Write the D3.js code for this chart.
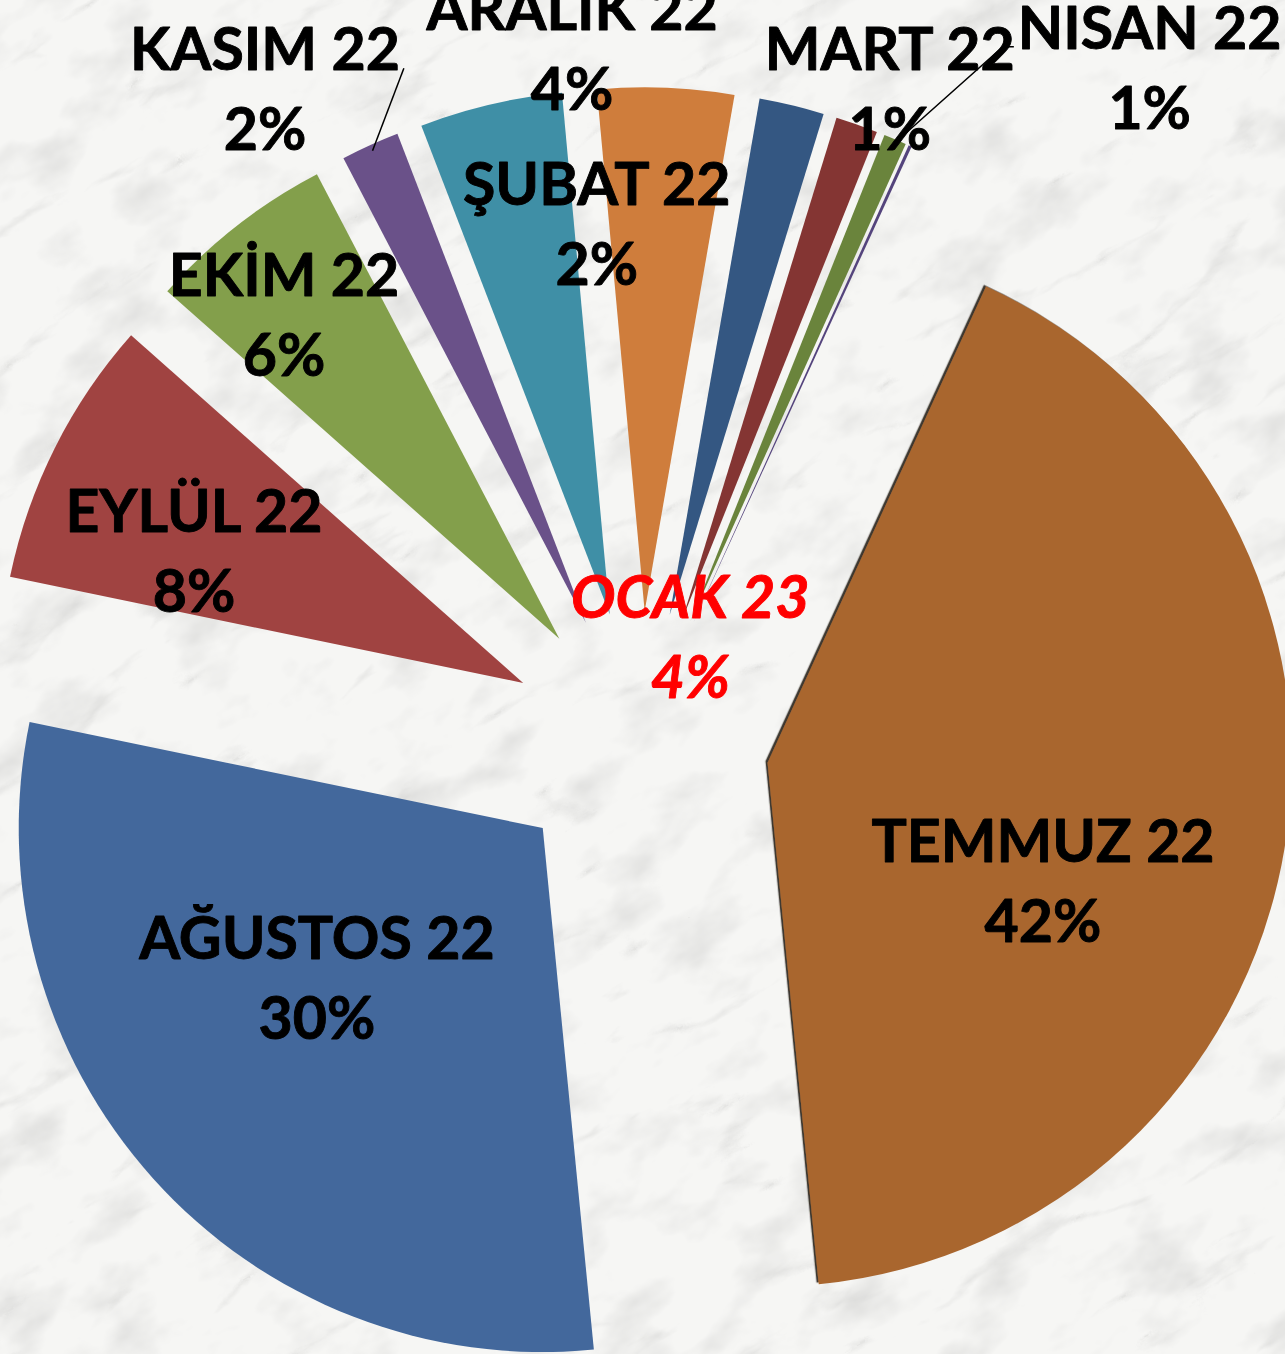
<!DOCTYPE html>
<html>
<head>
<meta charset="utf-8">
<script src="https://cdn.jsdelivr.net/npm/d3@7"></script>
<style>
  html, body { margin: 0; padding: 0; background: #f3f3f1; overflow: hidden; }
  svg { display: block; }
</style>
</head>
<body>
<div id="chart"></div>
<script>
// ---- data ----
const categories = ["AĞUSTOS 22", "EYLÜL 22", "EKİM 22", "KASIM 22", "ARALIK 22", "OCAK 23",
                    "ŞUBAT 22", "MART 22", "NISAN 22", "MAYIS 22", "TEMMUZ 22"];
const values = [29.8, 8.3, 5.8, 1.8, 4.4, 4.2, 2.0, 1.3, 0.7, 0.1, 41.6];
const colors = ["#43689C", "#A04341", "#839F4B", "#6A5189", "#3F8FA6", "#CF7D3C",
                "#345782", "#843533", "#6A843C", "#54447C", "#A9662F"];

// ---- layout ----
const W = 1285, H = 1354;
const cx = 639.4, cy = 741.2, R = 524, explode = 130;
const startDeg = 174.4;
const fontSize = 59, lineGap = 80;

// manual label nudges (labels were dragged in the original), relative to slice centroid
const nudges = {
  "AĞUSTOS 22": [-31, -26], "EYLÜL 22": [-95, -15], "EKİM 22": [-114, -118],
  "KASIM 22": [-213, -295], "ARALIK 22": [22, -311], "OCAK 23": [35, 287],
  "ŞUBAT 22": [-134, -136], "MART 22": [120, -283], "NISAN 22": [357, -313],
  "TEMMUZ 22": [17, 75]
};
const leaders = { "KASIM 22": { side: "right", stub: 0 }, "NISAN 22": { side: "left", stub: 11 } };

const data = categories.map((c, i) => ({ cat: c, value: values[i], color: colors[i] }));
const total = d3.sum(values);

const svg = d3.select("#chart").append("svg").attr("width", W).attr("height", H);
const defs = svg.append("defs");

// marble background
const mf = defs.append("filter").attr("id", "marble")
  .attr("x", 0).attr("y", 0).attr("width", 1).attr("height", 1);
mf.append("feTurbulence").attr("type", "fractalNoise").attr("baseFrequency", "0.012 0.02")
  .attr("numOctaves", 4).attr("seed", 4).attr("result", "f");
mf.append("feColorMatrix").attr("in", "f").attr("type", "matrix")
  .attr("values", "0 0 0 0 0.70  0 0 0 0 0.70  0 0 0 0 0.69  -2.0 0 0 0 1.0").attr("result", "mottle");
mf.append("feTurbulence").attr("type", "turbulence").attr("baseFrequency", "0.004 0.011")
  .attr("numOctaves", 6).attr("seed", 11).attr("result", "t");
mf.append("feColorMatrix").attr("in", "t").attr("type", "matrix")
  .attr("values", "0 0 0 0 0.64  0 0 0 0 0.64  0 0 0 0 0.63  -3.0 0 0 0 0.5").attr("result", "veins");
mf.append("feFlood").attr("flood-color", "#f6f6f4").attr("result", "base");
const mm = mf.append("feMerge");
mm.append("feMergeNode").attr("in", "base");
mm.append("feMergeNode").attr("in", "mottle");
mm.append("feMergeNode").attr("in", "veins");

svg.append("g").attr("transform", `rotate(-30 ${W / 2} ${H / 2})`)
  .append("rect").attr("x", -500).attr("y", -500).attr("width", W + 1000).attr("height", H + 1000)
  .attr("filter", "url(#marble)");

// edge shadow for the big slices
const sh = defs.append("filter").attr("id", "edge").attr("x", "-5%").attr("y", "-5%")
  .attr("width", "110%").attr("height", "110%");
sh.append("feDropShadow").attr("dx", -2.2).attr("dy", -1.6).attr("stdDeviation", 0.6)
  .attr("flood-color", "#1e1308").attr("flood-opacity", 0.85);

// ---- pie ----
const a0 = startDeg * Math.PI / 180;
const pie = d3.pie().sort(null).value(d => d.value).startAngle(a0).endAngle(a0 + 2 * Math.PI);
const arc = d3.arc().innerRadius(0).outerRadius(R);
const arcs = pie(data);

function offsetOf(a) {
  const m = (a.startAngle + a.endAngle) / 2;
  return [explode * Math.sin(m), -explode * Math.cos(m)];
}

const g = svg.append("g").attr("transform", `translate(${cx},${cy})`);
g.selectAll("path.slice").data(arcs).join("path")
  .attr("class", "slice")
  .attr("transform", d => { const o = offsetOf(d); return `translate(${o[0]},${o[1]})`; })
  .attr("d", arc)
  .attr("fill", d => d.data.color)
  .attr("filter", d => (d.data.value / total > 0.4 ? "url(#edge)" : null));

// ---- labels ----
const lab = svg.append("g").attr("font-family", "Lato, 'Open Sans', sans-serif")
  .attr("font-weight", 700).attr("font-size", fontSize).attr("text-anchor", "middle")
  .attr("stroke-width", 0.9).attr("stroke-linejoin", "round");

arcs.forEach(a => {
  const pct = Math.round(a.data.value / total * 100);
  if (pct === 0) return;
  const o = offsetOf(a);
  const c = arc.centroid(a);
  const n = nudges[a.data.cat] || [0, 0];
  const x = cx + o[0] + c[0] + n[0];
  const y = cy + o[1] + c[1] + n[1];
  const special = a.data.cat === "OCAK 23";
  const capHalf = fontSize * 0.36;
  const col = special ? "#FF0000" : "#000";
  const t1 = lab.append("text").attr("x", x).attr("y", y - lineGap / 2 + capHalf)
    .attr("fill", col).attr("stroke", col).text(a.data.cat);
  const t2 = lab.append("text").attr("x", x).attr("y", y + lineGap / 2 + capHalf)
    .attr("fill", col).attr("stroke", col).text(pct + "%");
  if (special) {
    t1.attr("font-style", "italic");
    t2.attr("font-style", "italic");
  }
  const L = leaders[a.data.cat];
  if (L) {
    const bb = t1.node().getBBox();
    const m = (a.startAngle + a.endAngle) / 2;
    const rr = explode + R - 6;
    const ex = cx + rr * Math.sin(m), ey = cy - rr * Math.cos(m);
    const sy = y - lineGap / 2 + capHalf - 2;
    const sx = L.side === "right" ? bb.x + bb.width + 4 : bb.x - 4;
    const pts = [[sx, sy]];
    if (L.stub) pts.push([sx + (L.side === "right" ? L.stub : -L.stub), sy]);
    pts.push([ex, ey]);
    svg.append("path").attr("d", d3.line()(pts)).attr("fill", "none")
      .attr("stroke", "#000").attr("stroke-width", 1.5);
  }
});
</script>
</body>
</html>
